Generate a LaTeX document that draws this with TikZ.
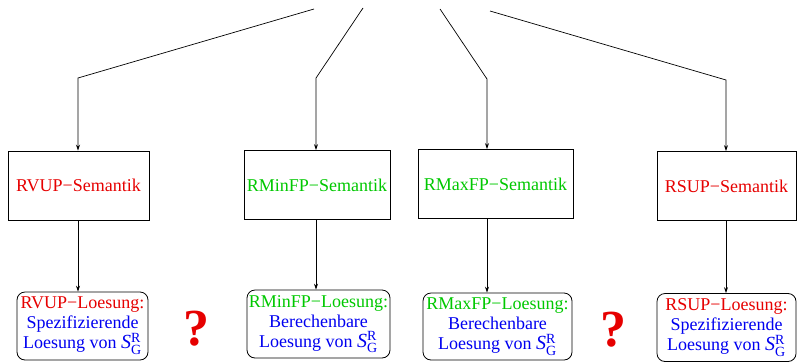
\documentclass[tikz,border=0pt]{standalone}
\usepackage{amsmath}
\usepackage{fontspec}
\setmainfont{Liberation Serif}
\usepackage{xcolor}
\usetikzlibrary{arrows.meta}

\definecolor{semred}{RGB}{230,0,0}
\definecolor{semgreen}{RGB}{0,200,0}
\definecolor{semblue}{RGB}{0,0,240}
\newcommand{\SGR}{{\fontsize{20}{20}\selectfont\textit{S}}$^{\text{\fontsize{14}{14}\selectfont R}}_{\text{\fontsize{14}{14}\selectfont G}}$}

\begin{document}
\begin{tikzpicture}[
    x=1pt, y=-1pt,
    every node/.style={font=\fontsize{18}{20}\selectfont},
    sembox/.style={draw=black, line width=0.9pt, inner sep=1pt,
                   minimum height=69pt},
    solbox/.style={draw=black, line width=0.8pt, rounded corners=8pt,
                   align=center, inner sep=1pt, minimum height=68pt},
    arrow/.style={-{Stealth[length=6pt,width=4pt]}, line width=0.7pt, draw=black},
    ask/.style={text=semred, font=\bfseries\fontsize{52}{52}\selectfont},
]
\useasboundingbox (0,0) rectangle (797,362);

% Free ends and bends of the upper connectors
\coordinate (top1) at (314,9);
\coordinate (top2) at (363,8);
\coordinate (top3) at (440,9);
\coordinate (top4) at (490,11);
\coordinate (k1) at (78,78);
\coordinate (k2) at (316,78);
\coordinate (k3) at (487,79);
\coordinate (k4) at (726,80);

% Semantics row
\node[sembox, minimum width=141pt, text=semred]   (sem1) at (78.5,185.5) {RVUP−Semantik};
\node[sembox, minimum width=146pt, text=semgreen] (sem2) at (317,185)    {RMinFP−Semantik};
\node[sembox, minimum width=155pt, text=semgreen] (sem3) at (495.5,184)  {RMaxFP−Semantik};
\node[sembox, minimum width=139pt, text=semred]   (sem4) at (726.5,186)  {RSUP−Semantik};

% Solution row
\node[solbox, minimum width=131pt] (sol1) at (82.5,326)
    {\textcolor{semred}{RVUP−Loesung:}\\
     \textcolor{semblue}{Spezifizierende}\\
     \textcolor{semblue}{Loesung von \SGR}};
\node[solbox, minimum width=143pt] (sol2) at (318.5,324)
    {\textcolor{semgreen}{RMinFP−Loesung:}\\
     \textcolor{semblue}{Berechenbare}\\
     \textcolor{semblue}{Loesung von \SGR}};
\node[solbox, minimum width=149pt, minimum height=67pt] (sol3) at (497.5,326.5)
    {\textcolor{semgreen}{RMaxFP−Loesung:}\\
     \textcolor{semblue}{Berechenbare}\\
     \textcolor{semblue}{Loesung von \SGR}};
\node[solbox, minimum width=139pt] (sol4) at (726.5,327.5)
    {\textcolor{semred}{RSUP−Loesung:}\\
     \textcolor{semblue}{Spezifizierende}\\
     \textcolor{semblue}{Loesung von \SGR}};

% Open questions between the pairs
\node[ask] (ask1) at (196,329) {?};
\node[ask] (ask2) at (613,330) {?};

% Upper connectors
\draw[arrow] (top1) -- (k1) -- (k1 |- sem1.north);
\draw[arrow] (top2) -- (k2) -- (k2 |- sem2.north);
\draw[arrow] (top3) -- (k3) -- (k3 |- sem3.north);
\draw[arrow] (top4) -- (k4) -- (k4 |- sem4.north);

% Lower connectors
\draw[arrow] (k1 |- sem1.south) -- (k1 |- sol1.north);
\draw[arrow] (k2 |- sem2.south) -- (k2 |- sol2.north);
\draw[arrow] (k3 |- sem3.south) -- (k3 |- sol3.north);
\draw[arrow] (k4 |- sem4.south) -- (k4 |- sol4.north);
\end{tikzpicture}
\end{document}
